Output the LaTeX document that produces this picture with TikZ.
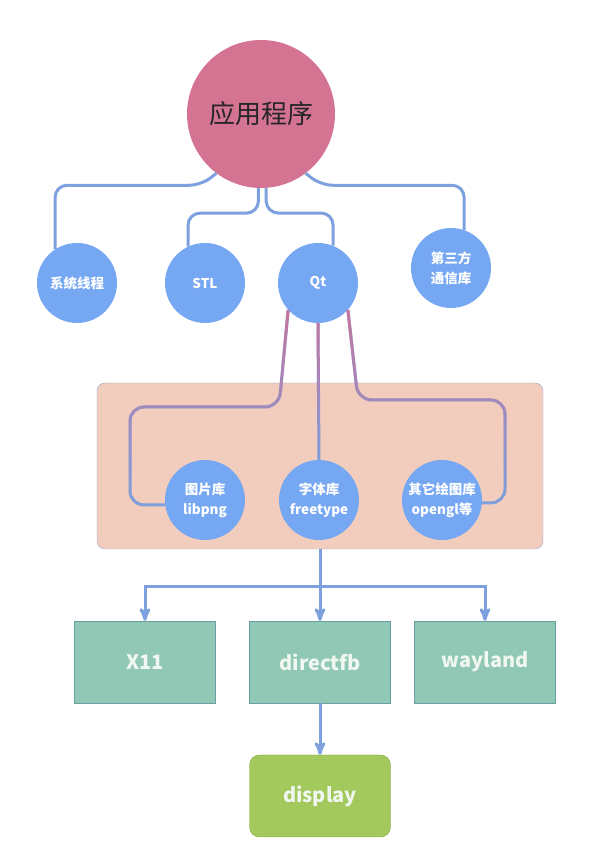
\documentclass[tikz,border=0pt]{standalone}
\usepackage{fontspec}
\setmainfont{Noto Sans CJK SC}
\usetikzlibrary{arrows,fadings}
\definecolor{linkblue}{RGB}{125,160,222}
\definecolor{nodeblue}{RGB}{118,167,242}
\definecolor{apppink}{RGB}{213,116,146}
\definecolor{qtpink}{RGB}{196,118,158}
\definecolor{libfill}{RGB}{242,205,189}
\definecolor{libedge}{RGB}{150,166,200}
\definecolor{backteal}{RGB}{144,200,181}
\definecolor{tealedge}{RGB}{104,160,160}
\definecolor{dispgreen}{RGB}{163,201,92}
\definecolor{greenedge}{RGB}{128,168,70}
\definecolor{boxtext}{RGB}{240,246,240}
\tikzfading[name=qtdown, top color=transparent!0, middle color=transparent!100, bottom color=transparent!100]

\begin{document}
\begin{tikzpicture}[x=1pt,y=1pt,node distance=134pt,>=stealth',auto]
		\tikzstyle{app}=[circle, fill=apppink, minimum size=148pt, inner sep=0pt, text=black!85, font=\fontsize{26}{30}\selectfont]
		\tikzstyle{lib}=[circle, fill=nodeblue, minimum size=80pt, inner sep=0pt, align=center, text=white, font=\fontsize{13.5}{20}\selectfont\bfseries]
		\tikzstyle{group}=[rectangle, rounded corners=8pt, fill=libfill, draw=libedge, minimum width=446pt, minimum height=166pt]
		\tikzstyle{backend}=[rectangle, fill=backteal, draw=tealedge, minimum width=141pt, minimum height=82pt, text=boxtext, font=\fontsize{20}{24}\selectfont\bfseries]
		\tikzstyle{screen}=[backend, rounded corners=10pt, fill=dispgreen, draw=greenedge]
		\tikzstyle{link}=[draw=linkblue, line width=3pt, rounded corners=12pt]
		\tikzstyle{qtlink}=[link, rounded corners=14pt]
		\tikzstyle{qtfade}=[draw=qtpink, line width=3pt, rounded corners=14pt, path fading=qtdown]
		\tikzstyle{post}=[->, draw=linkblue, line width=3pt]
		\tikzstyle{pre}=[<-, draw=linkblue, line width=3pt]

		\useasboundingbox (0,0) rectangle (591,868);

		\node [group] (libs) at (320,402) {};

		\node [app] (a) at (261,754) {应用程序};
		\node [lib] (sys) at (77,585) {系统线程};
		\node [lib] (stl) at (205,585) {STL};
		\node [lib] (qt) at (318,585) {Qt};
		\node [lib] (third) at (451,600) {第三方\\通信库};

		\draw [link] (a.233) -- ++(-15,-12) -| (sys.123);
		\draw [link] (a.268) -- ++(0,-25) -| (stl.115);
		\draw [link] (a.274) -- ++(0,-25) -| (qt.68);
		\draw [link] (a.307) -- ++(15,-12) -| (third.71);

		\node [lib] (png) at (205,368) {图片库\\libpng};
		\node [lib] (font) at (319,368) {字体库\\freetype};
		\node [lib] (gl) at (442,368) {其它绘图库\\opengl等};

		\draw [qtlink] (qt.222) -- (279,461) -- (130,461) -- (130,363) -- (png.187);
		\draw [qtlink] (qt.south) -- (font.north);
		\draw [qtlink] (qt.318) -- (358,468) -- (505,468) -- (505,365) -- (gl.356);
		\draw [qtfade] (qt.222) -- (279,461) -- (130,461) -- (130,363) -- (png.187);
		\draw [qtfade] (qt.south) -- (font.north);
		\draw [qtfade] (qt.318) -- (358,468) -- (505,468) -- (505,365) -- (gl.356);

		\node [backend] (dfb) at (320,206) {directfb};
		\node [backend] (x11) [left of=dfb, node distance=175pt] {X11};
		\node [backend] (way) [right of=dfb, node distance=165pt] {wayland};
		\node [screen] (disp) [below of=dfb] {display}
		edge [pre] (dfb);

		\coordinate (split) at (320,281);
		\draw [link] (libs.south) -- (split);
		\draw [post] (split) -| (x11);
		\draw [post] (split) -- (dfb);
		\draw [post] (split) -| (way);
	\end{tikzpicture}
\end{document}
